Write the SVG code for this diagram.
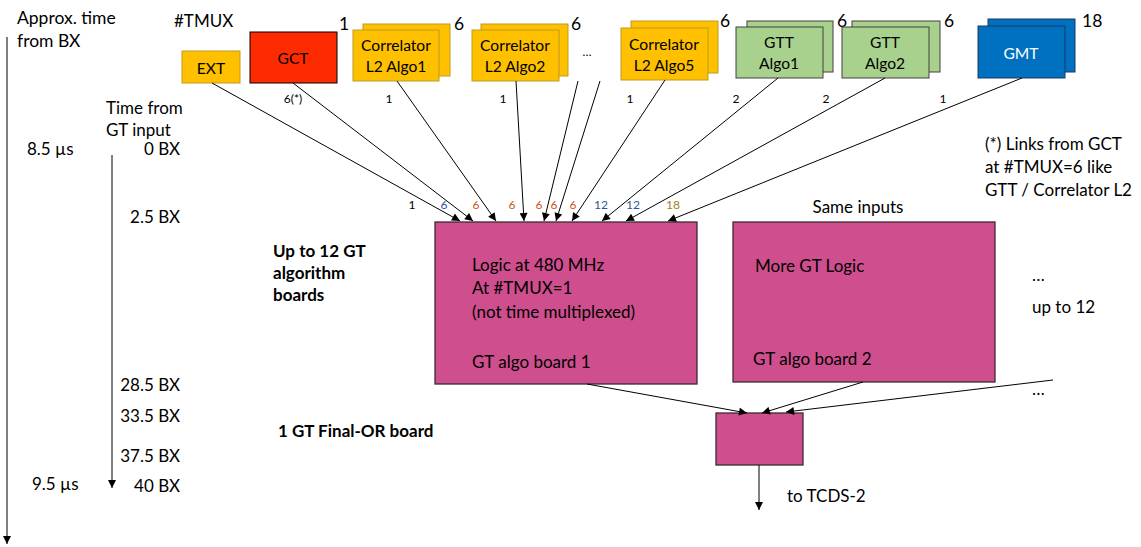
<svg xmlns="http://www.w3.org/2000/svg" width="1141" height="547" viewBox="0 0 1141 547">
  <style>
    text { font-family: Lato, "Open Sans", "Liberation Sans", sans-serif; fill: #000; }
    .t { font-size: 17px; }
    .big { font-size: 17.5px; }
    .box { font-size: 15.6px; text-anchor: middle; }
    .lbl { font-size: 12px; text-anchor: middle; }
    .bold { font-size: 17px; font-weight: bold; }
    .corr { fill: #FFC000; stroke: #C09A20; stroke-width: 1; }
    .gtt { fill: #A9D18E; stroke: #404040; stroke-width: 1; }
    .gmt { fill: #0070C0; stroke: #1F3864; stroke-width: 1; }
    .board { fill: #CF4E8D; stroke: #3A2A32; stroke-width: 1.3; }
    .edge { stroke: #000; stroke-width: 1; fill: none; marker-end: url(#arrow); }
    .blue { fill: #2F5597; }
    .orange { fill: #C55A11; }
    .gold { fill: #A5801A; }
  </style>
  <defs>
    <marker id="arrow" viewBox="0 0 10 10" refX="10" refY="5" markerWidth="9" markerHeight="8" markerUnits="userSpaceOnUse" orient="auto">
      <path d="M0,0 L10,5 L0,10 z" fill="#000"/>
    </marker>
  </defs>

  <!-- time axes -->
  <g id="time-axis">
    <text class="big" x="17" y="24">Approx. time</text>
    <text class="big" x="17" y="47">from BX</text>
    <line class="edge" x1="7" y1="37" x2="7" y2="544" stroke-width="1.6"/>
    <text class="t" x="106" y="114">Time from</text>
    <text class="t" x="106" y="136">GT input</text>
    <line class="edge" x1="112" y1="155" x2="112" y2="488" stroke-width="1.3"/>
    <text class="t" x="27" y="155">8.5 µs</text>
    <text class="t" x="32" y="490">9.5 µs</text>
    <g text-anchor="end">
      <text class="t" x="180" y="155">0 BX</text>
      <text class="t" x="180" y="223">2.5 BX</text>
      <text class="t" x="180" y="391">28.5 BX</text>
      <text class="t" x="180" y="422">33.5 BX</text>
      <text class="t" x="180" y="462">37.5 BX</text>
      <text class="t" x="180" y="492">40 BX</text>
    </g>
  </g>

  <text class="t" x="174" y="27" font-size="16">#TMUX</text>

  <!-- input sources -->
  <g id="ext">
    <rect class="corr" x="182" y="51" width="58" height="32"/>
    <text class="box" x="211" y="74" font-size="17">EXT</text>
  </g>
  <g id="gct">
    <rect x="250" y="32" width="87" height="51" fill="#FF2B00" stroke="#000" stroke-width="1"/>
    <text class="box" x="293" y="64" font-size="18">GCT</text>
    <text class="big" x="339" y="30">1</text>
  </g>
  <g id="corr-algo1">
    <rect class="corr" x="363" y="24" width="87" height="52"/>
    <rect class="corr" x="353" y="30" width="86" height="51"/>
    <text class="box" x="396" y="51">Correlator</text>
    <text class="box" x="396" y="72">L2 Algo1</text>
    <text class="big" x="454" y="30">6</text>
  </g>
  <g id="corr-algo2">
    <rect class="corr" x="481" y="24" width="87" height="52"/>
    <rect class="corr" x="472" y="30" width="87" height="51"/>
    <text class="box" x="515" y="51">Correlator</text>
    <text class="box" x="515" y="72">L2 Algo2</text>
    <text class="big" x="571" y="30">6</text>
  </g>
  <text class="lbl" x="587" y="56">…</text>
  <g id="corr-algo5">
    <rect class="corr" x="631" y="21" width="87" height="52"/>
    <rect class="corr" x="621" y="28" width="87" height="52"/>
    <text class="box" x="664" y="50">Correlator</text>
    <text class="box" x="664" y="71">L2 Algo5</text>
    <text class="big" x="720" y="27">6</text>
  </g>
  <g id="gtt-algo1">
    <rect class="gtt" x="747" y="21" width="86" height="51"/>
    <rect class="gtt" x="736" y="27" width="87" height="51"/>
    <text class="box" x="779" y="48">GTT</text>
    <text class="box" x="779" y="69">Algo1</text>
    <text class="big" x="837" y="27">6</text>
  </g>
  <g id="gtt-algo2">
    <rect class="gtt" x="852" y="21" width="88" height="51"/>
    <rect class="gtt" x="842" y="27" width="87" height="51"/>
    <text class="box" x="885" y="48">GTT</text>
    <text class="box" x="885" y="69">Algo2</text>
    <text class="big" x="944" y="27">6</text>
  </g>
  <g id="gmt">
    <rect class="gmt" x="988" y="19" width="87" height="53"/>
    <rect class="gmt" x="978" y="26" width="87" height="52"/>
    <text class="box" x="1021" y="59" font-size="17" style="fill:#fff">GMT</text>
    <text class="big" x="1082" y="27">18</text>
  </g>

  <!-- note -->
  <g id="note">
    <text class="t" x="985" y="150">(*) Links from GCT</text>
    <text class="t" x="985" y="173">at #TMUX=6 like</text>
    <text class="t" x="985" y="196">GTT / Correlator L2</text>
  </g>

  <!-- algorithm boards -->
  <g id="label-algo">
    <text class="bold" x="273" y="257">Up to 12 GT</text>
    <text class="bold" x="273" y="279">algorithm</text>
    <text class="bold" x="273" y="301">boards</text>
  </g>
  <g id="board1">
    <rect class="board" x="435" y="222" width="262" height="162"/>
    <text class="t" x="472" y="271">Logic at 480 MHz</text>
    <text class="t" x="472" y="294">At #TMUX=1</text>
    <text class="t" x="472" y="318">(not time multiplexed)</text>
    <text class="t" x="472" y="368">GT algo board 1</text>
  </g>
  <g id="board2">
    <text class="t" x="858" y="213" text-anchor="middle">Same inputs</text>
    <rect class="board" x="733" y="222" width="262" height="160"/>
    <text class="t" x="755" y="272">More GT Logic</text>
    <text class="t" x="753" y="365">GT algo board 2</text>
  </g>
  <g id="more-boards">
    <text class="t" x="1032" y="281">…</text>
    <text class="t" x="1032" y="313">up to 12</text>
    <text class="t" x="1032" y="395">…</text>
  </g>

  <!-- final OR -->
  <g id="label-final">
    <text class="bold" x="278" y="437">1 GT Final-OR board</text>
  </g>
  <g id="final-or">
    <rect class="board" x="716" y="413" width="87" height="52"/>
  </g>
  <text class="t" x="787" y="502">to TCDS-2</text>

  <!-- connectors -->
  <g id="connectors">
    <line class="edge" x1="212" y1="83" x2="460" y2="221"/>
    <line class="edge" x1="293" y1="83" x2="473" y2="221"/>
    <line class="edge" x1="397" y1="81" x2="496" y2="221"/>
    <line class="edge" x1="516" y1="81" x2="524" y2="221"/>
    <line class="edge" x1="578" y1="81" x2="544" y2="221"/>
    <line class="edge" x1="600" y1="81" x2="556" y2="221"/>
    <line class="edge" x1="665" y1="80" x2="572" y2="221"/>
    <line class="edge" x1="778" y1="78" x2="602" y2="221"/>
    <line class="edge" x1="885" y1="78" x2="626" y2="221"/>
    <line class="edge" x1="1022" y1="78" x2="668" y2="221"/>

    <line class="edge" x1="587" y1="384" x2="747" y2="413"/>
    <line class="edge" x1="863" y1="382" x2="762" y2="413"/>
    <line class="edge" x1="1053" y1="380" x2="786" y2="412"/>
    <line class="edge" x1="759" y1="465" x2="759" y2="510"/>

    <!-- link counts at the sources -->
    <text class="lbl" x="293" y="103">6(*)</text>
    <text class="lbl" x="389" y="103">1</text>
    <text class="lbl" x="503" y="103">1</text>
    <text class="lbl" x="630" y="103">1</text>
    <text class="lbl" x="736" y="103">2</text>
    <text class="lbl" x="826" y="103">2</text>
    <text class="lbl" x="943" y="103">1</text>

    <!-- link counts at the board -->
    <text class="lbl" x="412" y="209">1</text>
    <text class="lbl blue" x="444" y="209">6</text>
    <text class="lbl orange" x="476" y="209">6</text>
    <text class="lbl orange" x="512" y="209">6</text>
    <text class="lbl orange" x="539" y="209">6</text>
    <text class="lbl orange" x="554" y="209">6</text>
    <text class="lbl orange" x="573" y="209">6</text>
    <text class="lbl blue" x="601" y="209">12</text>
    <text class="lbl blue" x="633" y="209">12</text>
    <text class="lbl gold" x="673" y="209">18</text>
  </g>
</svg>
